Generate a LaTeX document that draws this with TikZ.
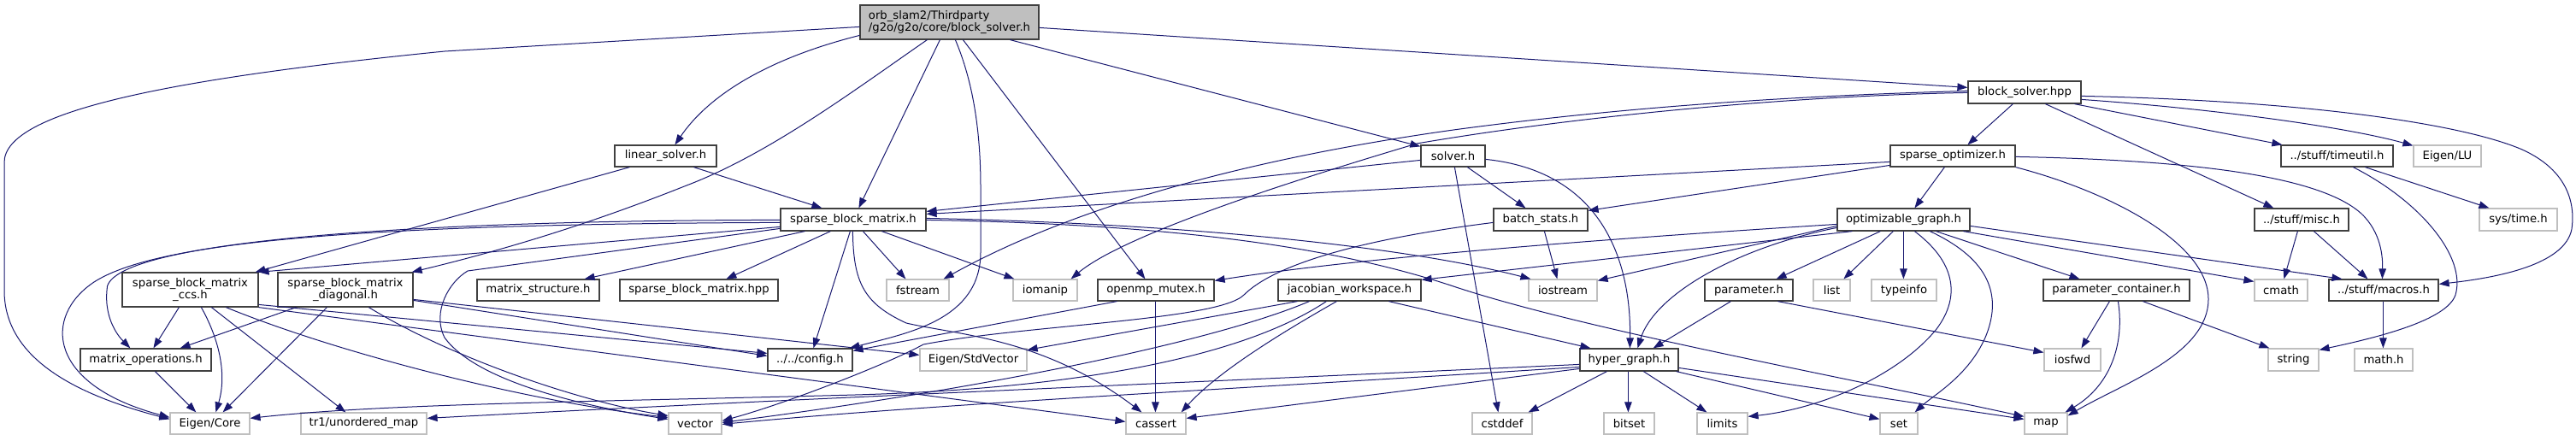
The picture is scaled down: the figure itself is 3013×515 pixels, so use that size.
\documentclass[tikz,border=0pt]{standalone}
\usepackage{fontspec}
\setmainfont{DejaVu Sans}
\usetikzlibrary{arrows.meta}
\definecolor{edgec}{RGB}{25,25,112}
\definecolor{boxd}{RGB}{64,64,64}
\definecolor{boxl}{RGB}{191,191,191}
\newcommand\gvfont{\fontsize{13.2}{14.5}\selectfont}
\newcommand\mknode[7]{\node[#6,minimum width={(#4-#2)*1pt},minimum height={(#5-#3)*1pt}] (#1) at ({(#2+#4)/2},{(#3+#5)/2}) {#7};}
\tikzset{
  dbox/.style={draw=boxd, line width=1.2pt, inner sep=0pt, font=\gvfont, text=black},
  xbox/.style={draw=boxl, line width=1.2pt, inner sep=0pt, font=\gvfont, text=black},
  rbox/.style={draw=boxd, fill=boxl, line width=1.2pt, inner sep=0pt, font=\gvfont, text=black, align=left},
  dep/.style={draw=edgec, line width=1pt, -{Triangle[length=12pt,width=8.5pt]}},
}
\begin{document}
\begin{tikzpicture}[x=1pt,y=-1pt]
\useasboundingbox (0,0) rectangle (3013,515);
\fill[white] (0,0) rectangle (3013,515);
% nodes
\mknode{root}{1006}{6}{1215}{46}{rbox}{orb\_slam2/Thirdparty\\/g2o/g2o/core/block\_solver.h}
\mknode{linsolver}{719}{170}{838}{195}{dbox}{linear\_solver.h}
\mknode{solver}{1662}{170}{1737}{195}{dbox}{solver.h}
\mknode{bshpp}{2302}{95}{2434}{121}{dbox}{block\_solver.hpp}
\mknode{sparseopt}{2211}{170}{2357}{195}{dbox}{sparse\_optimizer.h}
\mknode{timeutil}{2668}{170}{2799}{195}{dbox}{../stuff/timeutil.h}
\mknode{eigenlu}{2823}{170}{2902}{195}{xbox}{Eigen/LU}
\mknode{sbm}{913}{244}{1083}{270}{dbox}{sparse\_block\_matrix.h}
\mknode{batch}{1747}{244}{1857}{270}{dbox}{batch\_stats.h}
\mknode{optgraph}{2149}{244}{2304}{270}{dbox}{optimizable\_graph.h}
\mknode{misc}{2637}{244}{2747}{270}{dbox}{../stuff/misc.h}
\mknode{systime}{2900}{244}{2991}{270}{xbox}{sys/time.h}
\mknode{ccs}{143}{319}{302}{359}{dbox,align=center}{sparse\_block\_matrix\\\_ccs.h}
\mknode{diag}{325}{319}{483}{359}{dbox,align=center}{sparse\_block\_matrix\\\_diagonal.h}
\mknode{matstruct}{558}{327}{701}{352}{dbox}{matrix\_structure.h}
\mknode{sbmhpp}{725}{327}{910}{352}{dbox}{sparse\_block\_matrix.hpp}
\mknode{fstream}{1037}{327}{1110}{352}{xbox}{fstream}
\mknode{iomanip}{1185}{327}{1260}{352}{xbox}{iomanip}
\mknode{openmp}{1284}{327}{1420}{352}{dbox}{openmp\_mutex.h}
\mknode{jw}{1495}{327}{1662}{352}{dbox}{jacobian\_workspace.h}
\mknode{iostream}{1788}{327}{1868}{352}{xbox}{iostream}
\mknode{parameter}{1994}{327}{2097}{352}{dbox}{parameter.h}
\mknode{list}{2121}{327}{2164}{352}{xbox}{list}
\mknode{typeinfo}{2189}{327}{2265}{352}{xbox}{typeinfo}
\mknode{paramcont}{2390}{327}{2561}{352}{dbox}{parameter\_container.h}
\mknode{cmath}{2637}{327}{2699}{352}{xbox}{cmath}
\mknode{macros}{2724}{327}{2852}{352}{dbox}{../stuff/macros.h}
\mknode{matops}{94}{408}{247}{434}{dbox}{matrix\_operations.h}
\mknode{config}{898}{408}{997}{434}{dbox}{../../config.h}
\mknode{stdvector}{1076}{408}{1201}{434}{xbox}{Eigen/StdVector}
\mknode{hyper}{1848}{408}{1963}{434}{dbox}{hyper\_graph.h}
\mknode{iosfwd}{2391}{408}{2457}{434}{xbox}{iosfwd}
\mknode{string}{2653}{408}{2712}{434}{xbox}{string}
\mknode{mathh}{2754}{408}{2822}{434}{xbox}{math.h}
\mknode{eigencore}{199}{483}{292}{508}{xbox}{Eigen/Core}
\mknode{tr1}{352}{483}{499}{508}{xbox}{tr1/unordered\_map}
\mknode{vector}{782}{483}{844}{508}{xbox}{vector}
\mknode{cassert}{1317}{483}{1387}{508}{xbox}{cassert}
\mknode{cstddef}{1722}{483}{1792}{508}{xbox}{cstddef}
\mknode{bitset}{1876}{483}{1935}{508}{xbox}{bitset}
\mknode{limits}{1985}{483}{2044}{508}{xbox}{limits}
\mknode{set}{2199}{483}{2243}{508}{xbox}{set}
\mknode{map}{2368}{483}{2418}{508}{xbox}{map}
% root
\draw[dep] ([yshift=-26pt]root.north west) -- (520,60) .. controls (200,92) and (5,130) .. (5,190) -- (5,340) .. controls (5,420) and (90,462) .. ([yshift=-8pt]eigencore.north west);
\draw[dep] ([yshift=-36pt]root.north west) .. controls (900,68) and (830,110) .. ([xshift=71pt]linsolver.north west);
\draw[dep] ([xshift=79pt]root.south west) .. controls (1000,105) and (900,180) .. (803,217) .. controls (700,258) and (600,290) .. ([xshift=-2pt]diag.north east);
\draw[dep] ([xshift=94pt]root.south west) -- ([xshift=92pt]sbm.north west);
\draw[dep] ([xshift=112pt]root.south west) .. controls (1140,100) and (1147,160) .. (1147,220) -- (1147,295) .. controls (1147,375) and (1060,390) .. ([xshift=-4pt]config.north east);
\draw[dep] ([xshift=121pt]root.south west) -- ([xshift=56pt]openmp.north west);
\draw[dep] ([xshift=176pt]root.south west) -- ([yshift=-2pt]solver.north west);
\draw[dep] ([yshift=-27pt]root.north east) -- ([yshift=-8pt]bshpp.north west);
% linear_solver
\draw[dep] ([xshift=93pt]linsolver.south west) -- ([xshift=49pt]sbm.north west);
\draw[dep] ([xshift=18pt]linsolver.south west) -- ([xshift=-4pt]ccs.north east);
% sparse_block_matrix
\draw[dep] ([yshift=-22pt]sbm.north west) -- (ccs.north east);
\draw[dep] ([yshift=-14pt]sbm.north west) .. controls (450,258) and (120,285) .. (125,340) .. controls (122,375) and (140,395) .. ([xshift=59pt]matops.north west);
\draw[dep] ([yshift=-17pt]sbm.north west) .. controls (400,262) and (180,285) .. (110,330) .. controls (50,370) and (55,450) .. ([yshift=-6pt]eigencore.north west);
\draw[dep] ([yshift=-24pt]sbm.north west) -- (547,317) .. controls (525,330) and (505,365) .. (520,395) .. controls (560,450) and (700,478) .. ([yshift=-8pt]vector.north west);
\draw[dep] ([xshift=29pt]sbm.south west) -- ([xshift=-18pt]matstruct.north east);
\draw[dep] ([xshift=59pt]sbm.south west) -- ([xshift=125pt]sbmhpp.north west);
\draw[dep] ([xshift=82pt]sbm.south west) -- ([xshift=54pt]config.north west);
\draw[dep] ([xshift=85pt]sbm.south west) .. controls (998,330) and (1010,355) .. (1060,378) .. controls (1120,392) and (1220,395) .. ([xshift=19pt]cassert.north west);
\draw[dep] ([xshift=97pt]sbm.south west) -- ([xshift=23pt]fstream.north west);
\draw[dep] ([xshift=119pt]sbm.south west) -- ([xshift=2pt]iomanip.north west);
\draw[dep] ([yshift=-12pt]sbm.north east) .. controls (1400,262) and (1650,290) .. ([xshift=3pt]iostream.north west);
\draw[dep] ([yshift=-14pt]sbm.north east) .. controls (1350,262) and (1550,285) .. (1700,335) .. controls (1850,385) and (2150,440) .. ([yshift=-5pt]map.north west);
% solver
\draw[dep] ([yshift=-18pt]solver.north west) -- ([yshift=-4pt]sbm.north east);
\draw[dep] ([xshift=55pt]solver.south west) -- ([xshift=38pt]batch.north west);
\draw[dep] ([yshift=-17pt]solver.north east) .. controls (1870,200) and (1908,300) .. ([xshift=59pt]hyper.north west);
\draw[dep] ([xshift=40pt]solver.south west) -- ([xshift=31pt]cstddef.north west);
% block_solver.hpp
\draw[dep] ([yshift=-12pt]bshpp.north west) .. controls (2100,112) and (1900,125) .. (1700,152) .. controls (1450,187) and (1250,245) .. ([xshift=-7pt]fstream.north east);
\draw[dep] ([yshift=-14pt]bshpp.north west) .. controls (2100,112) and (1850,135) .. (1657,168) .. controls (1550,200) and (1320,270) .. ([xshift=-8pt]iomanip.north east);
\draw[dep] ([xshift=53pt]bshpp.south west) -- ([xshift=91pt]sparseopt.north west);
\draw[dep] ([xshift=91pt]bshpp.south west) -- ([xshift=23pt]misc.north west);
\draw[dep] ([xshift=125pt]bshpp.south west) -- ([xshift=2pt]timeutil.north west);
\draw[dep] ([yshift=-22pt]bshpp.north east) .. controls (2600,128) and (2750,150) .. ([yshift=-1pt]eigenlu.north west);
\draw[dep] ([yshift=-18pt]bshpp.north east) .. controls (2700,118) and (2880,145) .. (2950,175) .. controls (3005,200) and (3012,240) .. (3008,268) .. controls (3000,310) and (2920,325) .. ([yshift=-6pt]macros.north east);
% sparse_optimizer
\draw[dep] ([xshift=64pt]sparseopt.south west) -- ([xshift=91pt]optgraph.north west);
\draw[dep] ([yshift=-20pt]sparseopt.north west) -- ([yshift=-7pt]sbm.north east);
\draw[dep] ([yshift=-24pt]sparseopt.north west) -- ([yshift=-3pt]batch.north east);
\draw[dep] ([yshift=-14pt]sparseopt.north east) .. controls (2600,188) and (2720,212) .. (2762,250) .. controls (2785,272) and (2787,300) .. ([xshift=63pt]macros.north west);
\draw[dep] (sparseopt.south east) .. controls (2470,225) and (2583,285) .. (2583,350) .. controls (2583,415) and (2480,450) .. ([yshift=-4pt]map.north east);
% batch_stats
\draw[dep] ([xshift=60pt]batch.south west) -- ([xshift=34pt]iostream.north west);
\draw[dep] ([yshift=-17pt]batch.north west) .. controls (1590,280) and (1490,310) .. (1455,345) .. controls (1425,375) and (1200,380) .. (1080,403) .. controls (1040,425) and (920,472) .. ([yshift=-10pt]vector.north east);
% jacobian_workspace
\draw[dep] ([xshift=23pt]jw.south west) -- ([yshift=-2pt]stdvector.north east);
\draw[dep] ([xshift=37pt]jw.south west) .. controls (1420,400) and (1150,455) .. ([yshift=-12pt]vector.north east);
\draw[dep] ([xshift=57pt]jw.south west) .. controls (1450,420) and (1250,455) .. (1000,462) .. controls (700,470) and (450,472) .. ([yshift=-7pt]eigencore.north east);
\draw[dep] ([xshift=69pt]jw.south west) .. controls (1480,400) and (1420,440) .. ([xshift=-6pt]cassert.north east);
\draw[dep] ([xshift=130pt]jw.south west) -- ([xshift=13pt]hyper.north west);
% hyper_graph
\draw[dep] ([yshift=-19pt]hyper.north west) .. controls (1400,447) and (900,468) .. ([yshift=-7pt]tr1.north east);
\draw[dep] ([yshift=-22pt]hyper.north west) .. controls (1500,452) and (1100,472) .. ([yshift=-14pt]vector.north east);
\draw[dep] ([yshift=-24pt]hyper.north west) -- ([yshift=-7pt]cassert.north east);
\draw[dep] ([xshift=32pt]hyper.south west) -- ([xshift=-5pt]cstddef.north east);
\draw[dep] ([xshift=57pt]hyper.south west) -- ([xshift=29pt]bitset.north west);
\draw[dep] ([xshift=75pt]hyper.south west) -- ([xshift=12pt]limits.north west);
\draw[dep] ([xshift=-3pt]hyper.south east) -- ([yshift=-8pt]set.north west);
\draw[dep] ([yshift=-23pt]hyper.north east) -- ([yshift=-8pt]map.north west);
% optimizable_graph
\draw[dep] ([yshift=-19pt]optgraph.north west) .. controls (1900,278) and (1600,300) .. ([yshift=-2pt]openmp.north east);
\draw[dep] ([xshift=18pt]optgraph.south west) -- ([yshift=-1pt]jw.north east);
\draw[dep] ([yshift=-21pt]optgraph.north west) -- ([yshift=-2pt]iostream.north east);
\draw[dep] ([yshift=-23pt]optgraph.north west) .. controls (2030,290) and (1935,345) .. ([xshift=68pt]hyper.north west);
\draw[dep] ([xshift=51pt]optgraph.south west) -- ([xshift=-20pt]parameter.north east);
\draw[dep] ([xshift=66pt]optgraph.south west) -- ([xshift=36pt]list.north west);
\draw[dep] ([xshift=78pt]optgraph.south west) -- ([xshift=38pt]typeinfo.north west);
\draw[dep] ([xshift=91pt]optgraph.south west) .. controls (2285,305) and (2295,345) .. (2265,385) .. controls (2220,440) and (2130,478) .. ([yshift=-5pt]limits.north east);
\draw[dep] ([xshift=109pt]optgraph.south west) .. controls (2320,300) and (2345,340) .. (2322,395) .. controls (2302,440) and (2262,462) .. ([xshift=-4pt]set.north east);
\draw[dep] ([xshift=116pt]optgraph.south west) -- ([xshift=43pt]paramcont.north west);
\draw[dep] ([xshift=148pt]optgraph.south west) -- ([yshift=-3pt]cmath.north west);
\draw[dep] ([yshift=-21pt]optgraph.north east) -- ([xshift=16pt]macros.north west);
% parameter, parameter_container
\draw[dep] ([xshift=31pt]parameter.south west) -- ([xshift=-30pt]hyper.north east);
\draw[dep] ([xshift=86pt]parameter.south west) -- ([yshift=-5pt]iosfwd.north west);
\draw[dep] ([xshift=78pt]paramcont.south west) -- ([xshift=44pt]iosfwd.north west);
\draw[dep] ([xshift=88pt]paramcont.south west) .. controls (2485,400) and (2470,450) .. ([xshift=-3pt]map.north east);
\draw[dep] ([xshift=117pt]paramcont.south west) -- ([xshift=2pt]string.north west);
% stuff
\draw[dep] ([xshift=99pt]timeutil.south west) -- ([xshift=12pt]systime.north west);
\draw[dep] ([xshift=85pt]timeutil.south west) .. controls (2830,235) and (2885,300) .. (2872,345) .. controls (2862,375) and (2780,395) .. ([yshift=-2pt]string.north east);
\draw[dep] ([xshift=51pt]misc.south west) -- ([xshift=35pt]cmath.north west);
\draw[dep] ([xshift=70pt]misc.south west) -- ([xshift=46pt]macros.north west);
\draw[dep] ([xshift=64pt]macros.south west) -- ([xshift=34pt]mathh.north west);
% openmp_mutex
\draw[dep] ([xshift=23pt]openmp.south west) -- ([yshift=-3pt]config.north east);
\draw[dep] ([xshift=68pt]openmp.south west) -- ([xshift=35pt]cassert.north west);
% matrix_operations, ccs, diagonal
\draw[dep] ([xshift=88pt]matops.south west) -- ([xshift=31pt]eigencore.north west);
\draw[dep] ([xshift=67pt]ccs.south west) -- ([xshift=86pt]matops.north west);
\draw[dep] ([xshift=93pt]ccs.south west) .. controls (258,400) and (265,440) .. ([xshift=54pt]eigencore.north west);
\draw[dep] ([xshift=105pt]ccs.south west) -- ([xshift=53pt]tr1.north west);
\draw[dep] ([xshift=122pt]ccs.south west) .. controls (400,415) and (620,470) .. ([yshift=-6pt]vector.north west);
\draw[dep] ([yshift=-38pt]ccs.north east) -- ([yshift=-6pt]config.north west);
\draw[dep] (ccs.south east) -- ([yshift=-11pt]cassert.north west);
\draw[dep] ([xshift=22pt]diag.south west) -- ([xshift=-37pt]matops.north east);
\draw[dep] ([xshift=58pt]diag.south west) -- ([xshift=-32pt]eigencore.north east);
\draw[dep] ([xshift=107pt]diag.south west) .. controls (530,420) and (680,470) .. ([yshift=-4pt]vector.north west);
\draw[dep] ([yshift=-33pt]diag.north east) -- ([yshift=-9pt]config.north west);
\draw[dep] ([yshift=-32pt]diag.north east) -- ([yshift=-8pt]stdvector.north west);
\end{tikzpicture}
\end{document}
